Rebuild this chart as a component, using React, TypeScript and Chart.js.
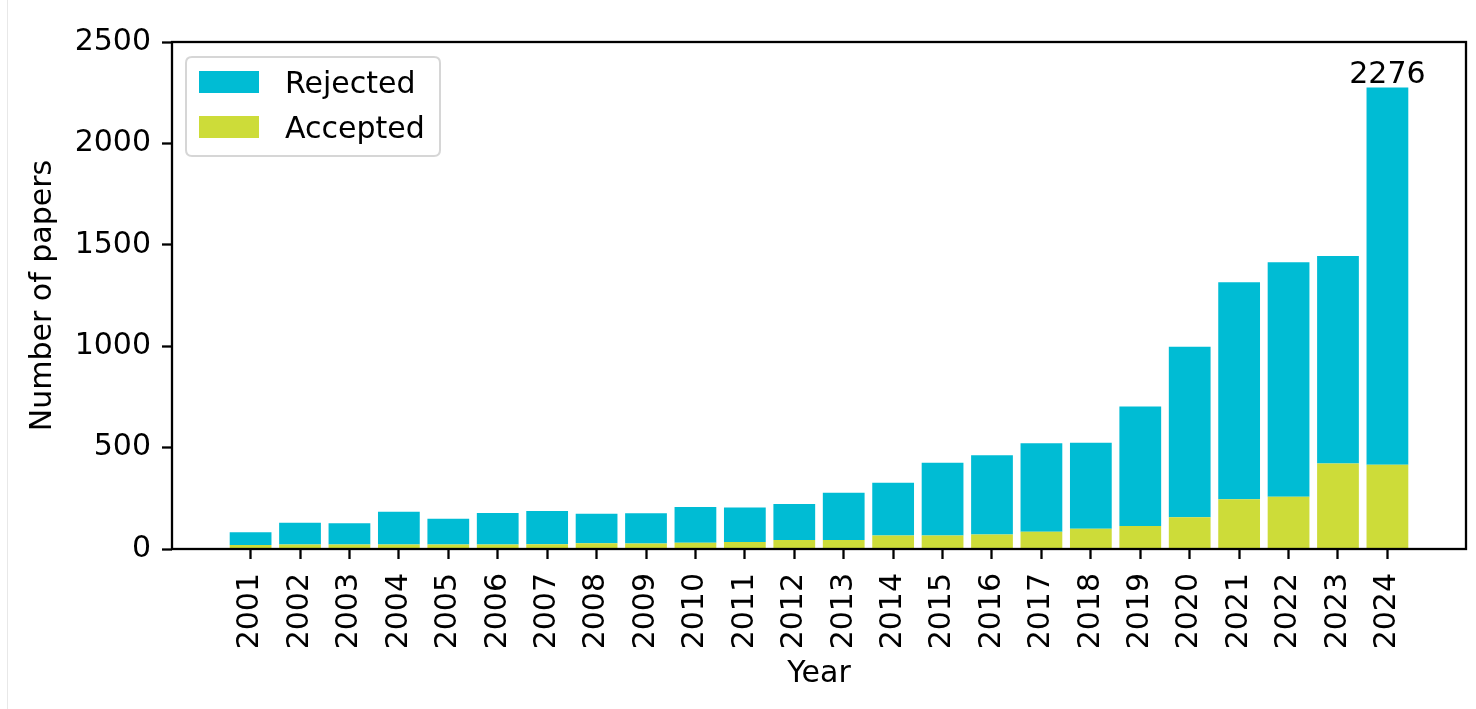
import React, { useEffect, useRef } from "react";
import { Chart, registerables } from "chart.js";

Chart.register(...registerables);

const years = [2001, 2002, 2003, 2004, 2005, 2006, 2007, 2008, 2009, 2010, 2011, 2012, 2013, 2014, 2015, 2016, 2017, 2018, 2019, 2020, 2021, 2022, 2023, 2024];
const accepted = [20, 22, 22, 22, 22, 22, 24, 28, 27, 31, 34, 44, 44, 67, 67, 72, 85, 100, 113, 156, 245, 258, 422, 415];
const rejected = [62, 108, 105, 162, 127, 155, 163, 146, 149, 176, 171, 178, 233, 260, 358, 390, 436, 424, 590, 841, 1070, 1156, 1023, 1861];
const yTicks = [0, 500, 1000, 1500, 2000, 2500];
const legendNames = ["Rejected", "Accepted"];
const rejectedColor = "#00BCD4";
const acceptedColor = "#CDDC39";
const FONT = "DejaVu Sans";
const FS = 30;

const overlayPlugin = {
  id: "overlay",
  afterDraw(chart: any) {
    const { ctx, chartArea: a } = chart;
    ctx.save();
    // frame
    ctx.strokeStyle = "#000";
    ctx.lineWidth = 2.3;
    ctx.strokeRect(a.left, a.top, a.right - a.left, a.bottom - a.top);

    // total label on last bar
    const meta = chart.getDatasetMeta(1);
    const n = years.length;
    const last = meta.data[n - 1];
    const total = accepted[n - 1] + rejected[n - 1];
    ctx.font = `${FS}px "${FONT}"`;
    ctx.fillStyle = "#000";
    ctx.textAlign = "center";
    ctx.textBaseline = "alphabetic";
    ctx.fillText(String(total), last.x, last.y - 4);

    // legend
    const bx = a.left + 14;
    const by = a.top + 15;
    const bw = 254;
    const bh = 99;
    ctx.beginPath();
    const r = 6;
    ctx.moveTo(bx + r, by);
    ctx.lineTo(bx + bw - r, by);
    ctx.quadraticCurveTo(bx + bw, by, bx + bw, by + r);
    ctx.lineTo(bx + bw, by + bh - r);
    ctx.quadraticCurveTo(bx + bw, by + bh, bx + bw - r, by + bh);
    ctx.lineTo(bx + r, by + bh);
    ctx.quadraticCurveTo(bx, by + bh, bx, by + bh - r);
    ctx.lineTo(bx, by + r);
    ctx.quadraticCurveTo(bx, by, bx + r, by);
    ctx.closePath();
    ctx.fillStyle = "rgba(255,255,255,0.8)";
    ctx.fill();
    ctx.strokeStyle = "#d6d6d6";
    ctx.lineWidth = 2;
    ctx.stroke();

    const cols = [rejectedColor, acceptedColor];
    legendNames.forEach((name, i) => {
      const py = by + 14 + i * 45;
      ctx.fillStyle = cols[i];
      ctx.fillRect(bx + 13, py, 60, 22);
      ctx.fillStyle = "#000";
      ctx.textAlign = "left";
      ctx.textBaseline = "alphabetic";
      ctx.fillText(name, bx + 99, py + 22);
    });
    ctx.restore();
  },
};

export default function App() {
  const ref = useRef<HTMLCanvasElement>(null);
  useEffect(() => {
    const chart = new Chart(ref.current as HTMLCanvasElement, {
      type: "bar",
      data: {
        labels: years,
        datasets: [
          {
            label: "Accepted",
            data: accepted,
            backgroundColor: acceptedColor,
            borderWidth: 0,
            barPercentage: 0.845,
            categoryPercentage: 1,
          },
          {
            label: "Rejected",
            data: rejected,
            backgroundColor: rejectedColor,
            borderWidth: 0,
            barPercentage: 0.845,
            categoryPercentage: 1,
          },
        ],
      },
      options: {
        responsive: false,
        animation: false,
        devicePixelRatio: 1,
        events: [],
        layout: { padding: { left: 0, right: 10, top: 42, bottom: 0 } },
        plugins: { legend: { display: false }, tooltip: { enabled: false } },
        scales: {
          x: {
            type: "linear",
            stacked: true,
            offset: false,
            min: years[0] - 1.59,
            max: years[years.length - 1] + 1.59,
            afterBuildTicks: (scale: any) => {
              scale.ticks = years.map((v) => ({ value: v }));
            },
            afterFit: (scale: any) => {
              scale.height = 160;
            },
            border: { display: false },
            grid: {
              display: true,
              offset: false,
              drawOnChartArea: false,
              drawTicks: true,
              tickLength: 10,
              tickWidth: 2.3,
              tickColor: "#000",
            },
            ticks: {
              autoSkip: false,
              minRotation: 90,
              maxRotation: 90,
              padding: 14,
              color: "#000",
              font: { family: FONT, size: FS },
              callback: (v: any) => String(v),
            },
            title: {
              display: true,
              text: "Year",
              color: "#000",
              font: { family: FONT, size: FS },
              padding: { top: 0, bottom: 17 },
            },
          },
          y: {
            type: "linear",
            stacked: true,
            min: 0,
            max: 2500,
            afterBuildTicks: (scale: any) => {
              scale.ticks = yTicks.map((v) => ({ value: v }));
            },
            afterFit: (scale: any) => {
              scale.width = 172;
            },
            border: { display: false },
            grid: {
              display: true,
              drawOnChartArea: false,
              drawTicks: true,
              tickLength: 10,
              tickWidth: 2.3,
              tickColor: "#000",
            },
            ticks: {
              padding: 11,
              color: "#000",
              font: { family: FONT, size: FS },
              callback: (v: any) => String(v),
            },
            title: {
              display: true,
              text: "Number of papers",
              color: "#000",
              font: { family: FONT, size: FS },
              padding: { top: 25, bottom: 0 },
            },
          },
        },
      },
      plugins: [overlayPlugin],
    } as any);
    return () => chart.destroy();
  }, []);
  return (
    <div style={{ position: "absolute", left: 0, top: 0, width: 1476, height: 709, background: "#fff" }}>
      <div style={{ position: "absolute", left: 7, top: 0, width: 1, height: 709, background: "#e8e8e8" }} />
      <canvas
        ref={ref}
        width={1476}
        height={709}
        style={{ position: "absolute", left: 0, top: 0, width: 1476, height: 709 }}
      />
    </div>
  );
}
